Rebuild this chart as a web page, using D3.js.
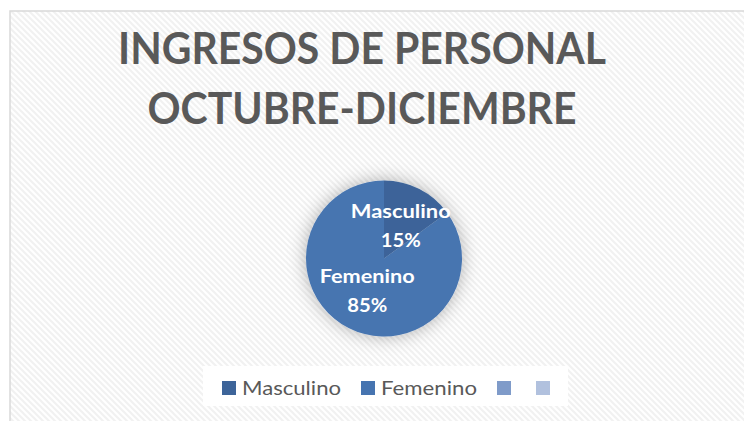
<!DOCTYPE html>
<html><head><meta charset="utf-8">
<script src="https://cdn.jsdelivr.net/npm/d3@7"></script>
<style>html,body{margin:0;padding:0;background:#fff;}svg{display:block;}</style>
</head><body>
<script>
const titleLines = ["INGRESOS DE PERSONAL", "OCTUBRE-DICIEMBRE"];
const categories = ["Masculino", "Femenino", "", ""];
const values = [15, 85, 0, 0];
const colors = ["#3d6499", "#4674b0", "#7f9bc9", "#b1c1de"];

const W = 744, H = 421;
const svg = d3.select("body").append("svg").attr("width", W).attr("height", H);
const defs = svg.append("defs");

const pat = defs.append("pattern").attr("id", "hatch").attr("patternUnits", "userSpaceOnUse")
  .attr("width", 6).attr("height", 6);
pat.append("rect").attr("width", 6).attr("height", 6).attr("fill", "#ffffff");
pat.append("path").attr("d", "M-3,3 L3,9 M0,0 L6,6 M3,-3 L9,3")
  .attr("stroke", "#f1f1f1").attr("stroke-width", 2);

const flt = defs.append("filter").attr("id", "shadow").attr("x", "-50%").attr("y", "-50%").attr("width", "200%").attr("height", "200%");
flt.append("feDropShadow").attr("dx", 0).attr("dy", 0).attr("stdDeviation", 9)
  .attr("flood-color", "#000").attr("flood-opacity", 0.3);

// chart area
svg.append("rect").attr("x", 10).attr("y", 11).attr("width", 760).attr("height", 430)
  .attr("fill", "url(#hatch)").attr("stroke", "#d9d9d9").attr("stroke-width", 1.5);

// title
const font = "Lato, 'Open Sans', sans-serif";
const titleWidths = [488, 429];
svg.append("g").selectAll("text").data(titleLines).join("text")
  .attr("x", 362).attr("y", (d, i) => 64 + i * 60)
  .attr("text-anchor", "middle")
  .attr("font-family", font).attr("font-weight", 700).attr("font-size", 43)
  .attr("fill", "#595959")
  .attr("textLength", (d, i) => titleWidths[i]).attr("lengthAdjust", "spacingAndGlyphs")
  .text(d => d);

// pie
const cx = 384, cy = 258.5, R = 78;
const data = categories.map((c, i) => ({ cat: c, value: values[i], color: colors[i] }));
const pie = d3.pie().value(d => d.value).sort(null);
const arcs = pie(data);
const arc = d3.arc().innerRadius(0).outerRadius(R);
const labelArc = d3.arc().innerRadius(37).outerRadius(37);
const g = svg.append("g").attr("transform", `translate(${cx},${cy})`);
g.append("g").attr("filter", "url(#shadow)").selectAll("path").data(arcs.filter(a => a.data.value > 0)).join("path")
  .attr("d", arc).attr("fill", d => d.data.color);

const total = d3.sum(values);
const catWidths = [100, 95];
const lbl = g.selectAll("g.lbl").data(arcs.filter(a => a.data.value > 0)).join("g").attr("class", "lbl")
  .attr("transform", d => { const [x, y] = labelArc.centroid(d); return `translate(${x},${y})`; });
lbl.append("text").attr("text-anchor", "middle").attr("y", -8)
  .attr("font-family", font).attr("font-weight", 700).attr("font-size", 19.5).attr("fill", "#fff")
  .attr("textLength", (d, i) => catWidths[i]).attr("lengthAdjust", "spacingAndGlyphs")
  .text(d => d.data.cat);
lbl.append("text").attr("text-anchor", "middle").attr("y", 21)
  .attr("font-family", font).attr("font-weight", 700).attr("font-size", 19.5).attr("fill", "#fff")
  .attr("textLength", 40).attr("lengthAdjust", "spacingAndGlyphs")
  .text(d => Math.round(d.data.value / total * 100) + "%");

// legend
svg.append("rect").attr("x", 203).attr("y", 366).attr("width", 365).attr("height", 40).attr("fill", "#fff");
const legX = [222, 361, 497, 536];
const legW = [99, 96, 0, 0];
const leg = svg.append("g").selectAll("g").data(data).join("g")
  .attr("transform", (d, i) => `translate(${legX[i]},381)`);
leg.append("rect").attr("width", 14).attr("height", 14).attr("fill", d => d.color);
leg.filter(d => d.cat).append("text").attr("x", 20).attr("y", 14)
  .attr("font-family", font).attr("font-size", 20).attr("fill", "#595959")
  .attr("textLength", (d, i) => legW[i]).attr("lengthAdjust", "spacingAndGlyphs")
  .text(d => d.cat);
</script>
</body></html>
